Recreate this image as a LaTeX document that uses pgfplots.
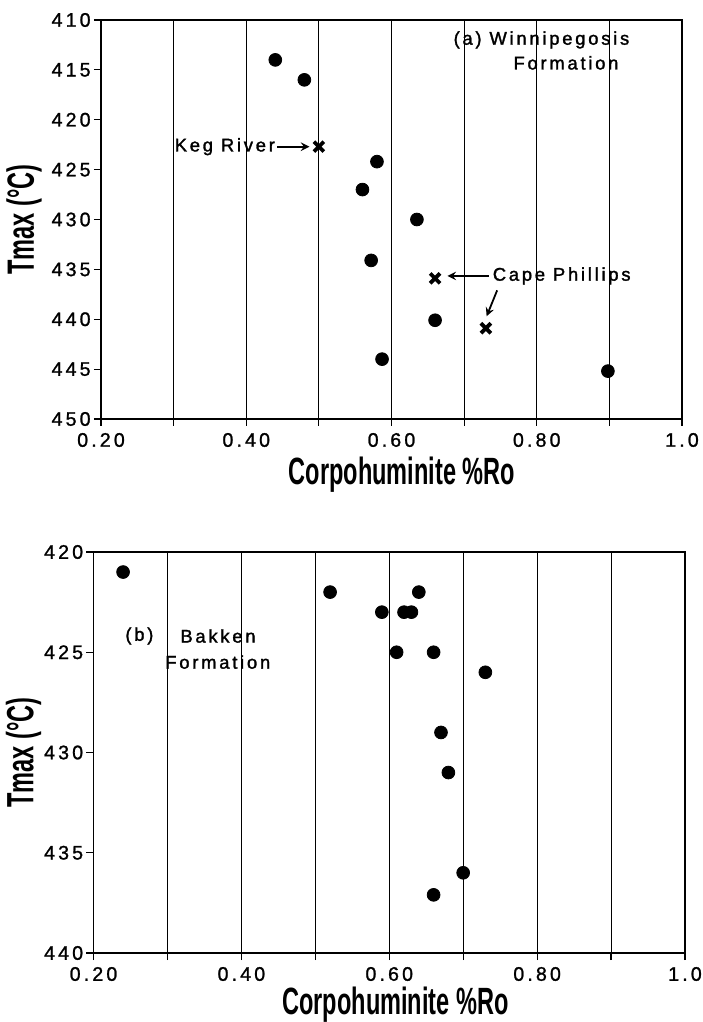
\documentclass[border=0pt]{standalone}
\usepackage{fontspec}
\usepackage{graphicx}
\usepackage{pgfplots}
\pgfplotsset{compat=1.18}
\setmainfont{Liberation Sans}
\newfontfamily\tickfont[LetterSpace=16,FakeBold=1.2]{Liberation Sans}
\newfontfamily\annfont[LetterSpace=15,FakeBold=1.6]{Liberation Sans}
\newcommand\lab[1]{\scalebox{0.62}[1]{\fontsize{19}{22}\selectfont\bfseries #1}}
\pgfplotsset{
 mystyle/.style={
  scale only axis,
  y dir=reverse,
  xmin=0.2,xmax=1.0,
  xtick={0.2,0.3,0.4,0.5,0.6,0.7,0.8,0.9,1.0},
  xticklabels={0.20,,0.40,,0.60,,0.80,,1.0},
  xmajorgrids,
  grid style={black,line width=0.55pt},
  axis line style={line width=0.7pt},
  tick align=outside,
  xtick pos=bottom, ytick pos=left,
  major tick length=3.5pt,
  every tick/.style={black,line width=0.6pt},
  tick label style={font=\tickfont\fontsize{9.8}{11}\selectfont},
  yticklabel style={inner xsep=1.5pt},
  /pgf/number format/assume math mode=true,
  ylabel={\lab{Tmax (°C)}},
  xlabel={\lab{Corpohuminite \%Ro}},
  clip=false,
 },
 dots/.style={only marks, mark=*, mark size=3.2pt, black},
 crosses/.style={only marks, mark=x, mark size=3.5pt, black, line width=1.9pt},
}
\pgfplotstableread{
x y
0.44 414
0.48 416
0.58 424.2
0.56 427
0.635 430
0.572 434.1
0.66 440.1
0.587 444
0.898 445.2
}\winnidots
\pgfplotstableread{
x y
0.50 422.7
0.66 435.9
0.73 440.9
}\winnix
\pgfplotstableread{
x y
0.24 421
0.52 422
0.64 422
0.59 423
0.62 423
0.63 423
0.61 425
0.66 425
0.73 426
0.67 429
0.68 431
0.70 436
0.66 437.1
}\bakken
\begin{document}
\begin{tikzpicture}
\path[use as bounding box] (0,0) rectangle (351pt,511pt);
% (a)
\begin{axis}[mystyle,
  at={(50.5pt,301.5pt)}, anchor=south west,
  width=290.5pt, height=199.5pt,
  ymin=410, ymax=450, ytick={410,415,...,450},
  ylabel style={at={(axis description cs:-0.1325,0.5)}, anchor=center},
  xlabel style={at={(axis description cs:0.518,-0.14)}, anchor=center},
]
\addplot[dots] table {\winnidots};
\addplot[crosses] table {\winnix};
\node[anchor=west,font=\annfont\fontsize{9.2}{11}\selectfont,inner sep=0pt] at (axis cs:0.685,412.0) {(a) Winnipegosis};
\node[anchor=west,font=\annfont\fontsize{9.2}{11}\selectfont,inner sep=0pt] at (axis cs:0.7675,414.3) {Formation};
\node[anchor=east,font=\annfont\fontsize{9.2}{11}\selectfont,inner sep=0pt] at (axis cs:0.44,422.7) {Keg River};
\draw[-stealth, line width=0.9pt] (axis cs:0.443,422.7) -- (axis cs:0.487,422.7);
\node[anchor=west,font=\annfont\fontsize{9.2}{11}\selectfont,inner sep=0pt] at (axis cs:0.739,435.66) {Cape Phillips};
\draw[-stealth, line width=0.9pt] (axis cs:0.734,435.66) -- (axis cs:0.677,435.66);
\draw[-stealth, line width=0.9pt] (axis cs:0.7455,437.1) -- (axis cs:0.731,439.7);
\end{axis}
% (b)
\begin{axis}[mystyle,
  at={(46.75pt,34.5pt)}, anchor=south west,
  width=295.75pt, height=200.5pt,
  ymin=420, ymax=440, ytick={420,425,...,440},
  ylabel style={at={(axis description cs:-0.1183,0.5)}, anchor=center},
  xlabel style={at={(axis description cs:0.5106,-0.128)}, anchor=center},
]
\addplot[dots] table {\bakken};
\node[anchor=west,font=\annfont\fontsize{9.2}{11}\selectfont,inner sep=0pt] at (axis cs:0.2426,424.19) {(b)};
\node[anchor=west,font=\annfont\fontsize{9.2}{11}\selectfont,inner sep=0pt] at (axis cs:0.317,424.19) {Bakken};
\node[anchor=west,font=\annfont\fontsize{9.2}{11}\selectfont,inner sep=0pt] at (axis cs:0.2966,425.49) {Formation};
\end{axis}
\end{tikzpicture}
\end{document}
